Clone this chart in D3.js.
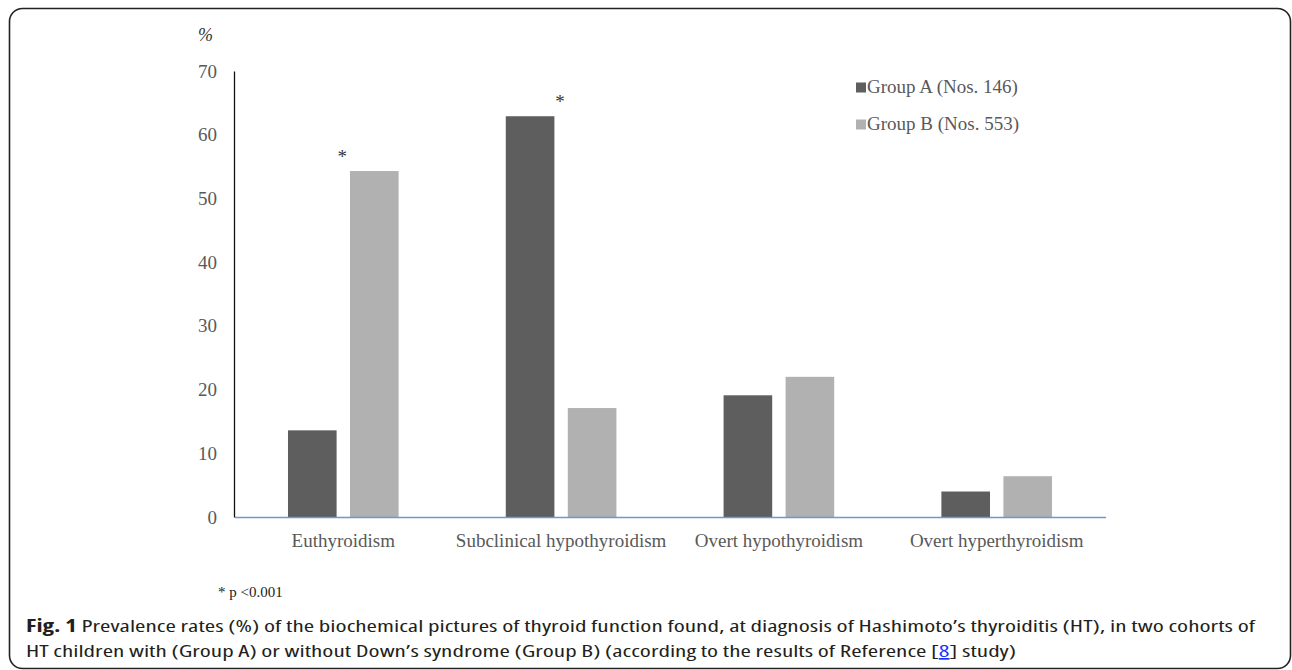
<!DOCTYPE html>
<html><head><meta charset="utf-8">
<script src="https://cdn.jsdelivr.net/npm/d3@7"></script>
<style>
html,body{margin:0;padding:0;background:#fff;}
svg{display:block;}
</style></head>
<body>
<svg id="chart" width="1292" height="670"></svg>
<script>
const categories = ["Euthyroidism", "Subclinical hypothyroidism", "Overt hypothyroidism", "Overt hyperthyroidism"];
const seriesNames = ["Group A (Nos. 146)", "Group B (Nos. 553)"];
const groupA = [13.6, 62.9, 19.1, 4.0];
const groupB = [54.3, 17.1, 22.0, 6.4];
const significant = [1, 0, -1, -1]; // index of series with asterisk (-1 none)
const yTicks = [0, 10, 20, 30, 40, 50, 60, 70];
const colors = ["#5e5e5e", "#b1b1b1"];
const captionLine1 = "Prevalence rates (%) of the biochemical pictures of thyroid function found, at diagnosis of Hashimoto’s thyroiditis (HT), in two cohorts of";
const captionLine2a = "HT children with (Group A) or without Down’s syndrome (Group B) (according to the results of Reference [";
const captionRef = "8";
const captionLine2b = "] study)";

const svg = d3.select("#chart");
const serif = "'Liberation Serif','Times New Roman',serif";

// frame
svg.append("rect").attr("x", 9.5).attr("y", 8.5).attr("width", 1281).attr("height", 660)
  .attr("rx", 13).attr("fill", "none").attr("stroke", "#222").attr("stroke-width", 1.6);

const x0 = d3.scaleBand().domain(categories).range([234.4, 1105.6]).paddingInner(0).paddingOuter(0);
const x1 = d3.scaleBand().domain([0, 1]).range([0, x0.bandwidth()]).paddingInner(0.216).paddingOuter(0.864);
const y = d3.scaleLinear().domain([0, 70]).range([517, 71]);

const data = categories.map((c, i) => ({cat: c, vals: [groupA[i], groupB[i]], sig: significant[i]}));

// bars
const g = svg.append("g");
data.forEach(d => {
  d.vals.forEach((v, s) => {
    g.append("rect")
      .attr("x", x0(d.cat) + x1(s))
      .attr("y", y(v))
      .attr("width", x1.bandwidth())
      .attr("height", y(0) - y(v))
      .attr("fill", colors[s]);
  });
  if (d.sig >= 0) {
    const top = d3.max(d.vals);
    svg.append("text")
      .attr("x", x0(d.cat) + x0.bandwidth() / 2 - 1)
      .attr("y", y(top) - 8)
      .attr("text-anchor", "middle")
      .attr("font-family", serif).attr("font-size", 19).attr("fill", "#333")
      .text("*");
  }
});

// y axis
const yAxis = d3.axisLeft(y).tickValues(yTicks).tickSize(0).tickPadding(17);
const ya = svg.append("g").attr("transform", "translate(234,0)").call(yAxis);
ya.select(".domain").attr("stroke", "#111").attr("stroke-width", 1.3);
ya.selectAll("text").attr("font-family", serif).attr("font-size", 19).attr("fill", "#595959");

// x axis
const xAxis = d3.axisBottom(x0).tickSize(0).tickPadding(17);
const xa = svg.append("g").attr("transform", "translate(0,517)").call(xAxis);
xa.select(".domain").attr("stroke", "#7295d8").attr("stroke-width", 1.5);
xa.selectAll("text").attr("font-family", serif).attr("font-size", 19).attr("fill", "#595959");

// % label
svg.append("text").attr("x", 198).attr("y", 41).attr("font-family", serif)
  .attr("font-style", "italic").attr("font-size", 18).attr("fill", "#333").text("%");

// legend
seriesNames.forEach((n, i) => {
  const ly = 86.5 + i * 37;
  svg.append("rect").attr("x", 856).attr("y", ly - 4).attr("width", 10).attr("height", 10).attr("fill", colors[i]);
  svg.append("text").attr("x", 867).attr("y", ly + 6).attr("font-family", serif)
    .attr("font-size", 19).attr("fill", "#595959").text(n);
});

// p note
svg.append("text").attr("x", 218).attr("y", 597).attr("font-family", serif)
  .attr("font-size", 15).attr("fill", "#222").text("* p <0.001");

// caption
const sans = "'Open Sans','Noto Sans',sans-serif";
const c1 = svg.append("text").attr("x", 26).attr("y", 632).attr("font-family", sans)
  .attr("font-size", 17).attr("font-stretch", "75%").attr("fill", "#231f20")
  .attr("textLength", 1229).attr("lengthAdjust", "spacingAndGlyphs");
c1.append("tspan").attr("font-weight", "bold").text("Fig. 1");
c1.append("tspan").text(" " + captionLine1);
const c2 = svg.append("text").attr("x", 26).attr("y", 657).attr("font-family", sans)
  .attr("font-size", 17).attr("font-stretch", "75%").attr("fill", "#231f20")
  .attr("textLength", 990).attr("lengthAdjust", "spacingAndGlyphs");
c2.append("tspan").text(captionLine2a);
c2.append("tspan").attr("fill", "#1a33ff").attr("text-decoration", "underline").text(captionRef);
c2.append("tspan").text(captionLine2b);
</script>
</body></html>
